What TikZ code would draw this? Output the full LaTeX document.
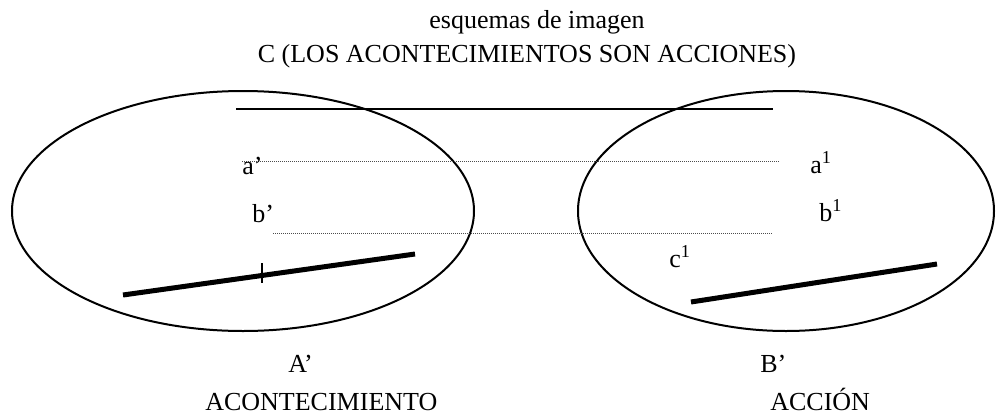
\documentclass[tikz,border=0pt]{standalone}
\usepackage{fontspec}
\setmainfont{Liberation Serif}
\usetikzlibrary{positioning}

\begin{document}
\begin{tikzpicture}[x=1pt, y=-1pt, semithick]
	\tikzstyle{every node}=[inner sep=0pt, anchor=base west, font=\fontsize{26}{30}\selectfont]
	\tikzstyle{frame}=[line width=2pt]
	\tikzstyle{bar}=[line width=5pt]
	\tikzstyle{guide}=[line width=0.8pt, black!70, dash pattern=on 1pt off 1pt]
	\useasboundingbox (0,0) rectangle (1002,416);
	% titulos
	\node[anchor=base]  (tit)  at (537,28)  {esquemas de imagen};
	\node[anchor=base]  (C)    at (527,62)  {C (LOS ACONTECIMIENTOS SON ACCIONES)};
	\draw[frame] (236,109) -- (773,109);
	% dominios
	\draw[frame] (243,211) ellipse [x radius=231, y radius=120];
	\draw[frame] (786,211) ellipse [x radius=208, y radius=120];
	% correspondencias
	\draw[guide] (242,161) -- (780,161);
	\draw[guide] (273,233) -- (773,233);
	\node (a)  at (242,174) {a’};
	\node (b)  at (252,222) {b’};
	\node (a1) at (810,173) {a\textsuperscript{1}};
	\node (b1) at (819,221) {b\textsuperscript{1}};
	\node (c1) at (669,267) {c\textsuperscript{1}};
	\draw[bar] (123,295) -- (415,254);
	\draw[line width=2.5pt] (262,263) -- (262,283);
	\draw[bar] (691,302) -- (937,264);
	% etiquetas
	\node (A)  at (288,372) {A’};
	\node (B)  at (760,372) {B’};
	\node (ev) at (205,410) {ACONTECIMIENTO};
	\node (ac) at (770,410) {ACCIÓN};
\end{tikzpicture}
\end{document}
